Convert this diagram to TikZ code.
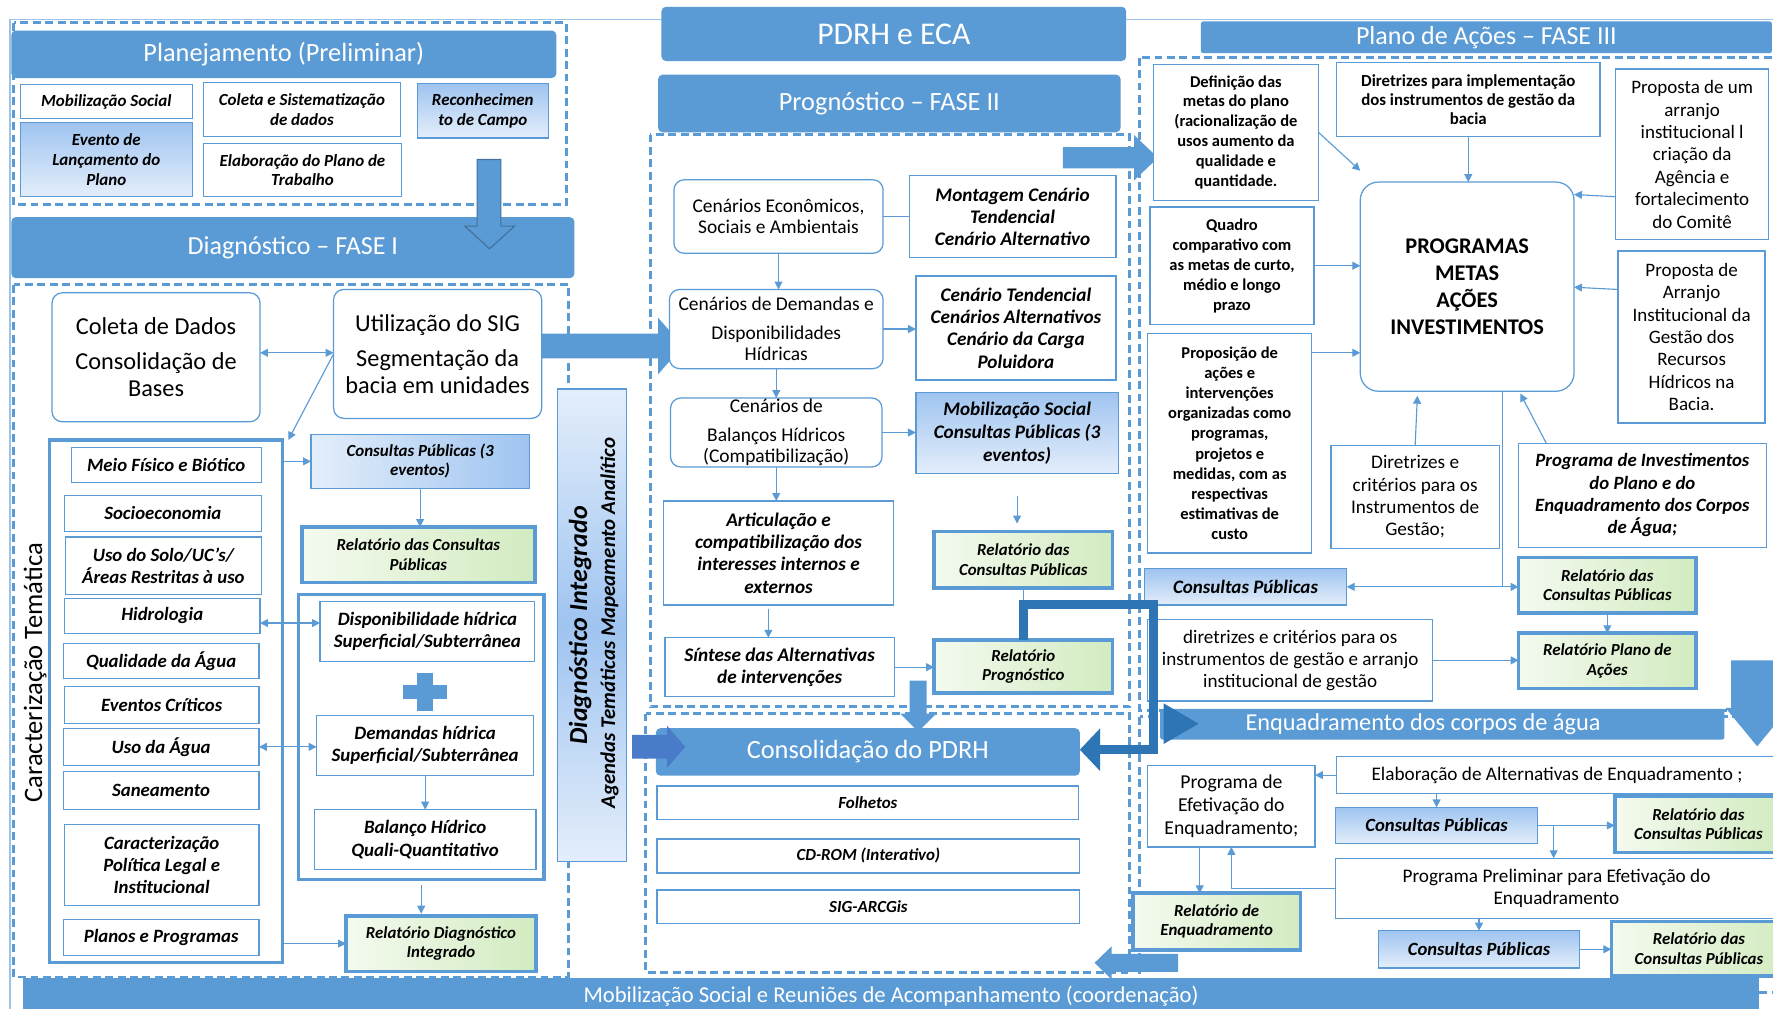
\documentclass[tikz,border=0pt]{standalone}
\usepackage{fontspec}
\setmainfont{Carlito}
\usetikzlibrary{arrows.meta}
\definecolor{bl}{HTML}{5B9BD5}
\definecolor{dk}{HTML}{2E75B6}
\definecolor{ol}{HTML}{41719C}
\definecolor{lbd}{HTML}{9FC4F0}
\definecolor{lbl}{HTML}{E4EEFB}
\definecolor{gl}{HTML}{F4FAEF}
\definecolor{gd}{HTML}{D2EBC0}
\definecolor{frm}{HTML}{9DC3E6}
\definecolor{ab}{HTML}{4A7BC8}
\newcommand\setfs[2]{\fontsize{#1}{#2}\selectfont}
\newcommand\mybox[7]{\node[#6,minimum width={(#4)-(#2)},minimum height={(#5)-(#3)}] (#1) at ({((#2)+(#4))/2},{((#3)+(#5))/2}) {#7};}
\newcommand\harr[7]{\fill[#1] (#2,{#4-(#5)}) -- ({#3-(#7)},{#4-(#5)}) -- ({#3-(#7)},{#4-(#6)}) -- (#3,#4) -- ({#3-(#7)},{#4+(#6)}) -- ({#3-(#7)},{#4+(#5)}) -- (#2,{#4+(#5)}) -- cycle;}
\newcommand\varr[7]{\fill[#1] ({#2-(#5)},#3) -- ({#2-(#5)},{#4-(#7)}) -- ({#2-(#6)},{#4-(#7)}) -- (#2,#4) -- ({#2+(#6)},{#4-(#7)}) -- ({#2+(#5)},{#4-(#7)}) -- ({#2+(#5)},#3) -- cycle;}
\tikzset{
 hdr/.style={fill=bl, rounded corners=4pt, text=white, inner sep=0pt, outer sep=0pt, align=center},
 wb/.style={draw=bl, line width=1.1pt, fill=white, align=center, inner sep=1pt, outer sep=0pt},
 rb/.style={wb, rounded corners=9pt},
 bgv/.style={draw=bl, line width=1.1pt, top color=lbd, bottom color=lbl, align=center, inner sep=1pt, outer sep=0pt},
 bgh/.style={draw=bl, line width=1.1pt, left color=lbl, right color=lbd, align=center, inner sep=1pt, outer sep=0pt},
 gb/.style={draw=bl, line width=3.2pt, left color=gl, right color=gd, align=center, inner sep=1pt, outer sep=0pt},
 tb/.style={draw=bl, line width=3pt, inner sep=0pt, outer sep=0pt},
 dashbox/.style={draw=bl, line width=2.6pt, dash pattern=on 7pt off 4pt},
 con/.style={draw=bl, line width=1pt, -{Triangle[length=7pt,width=7pt]}},
 dcon/.style={draw=bl, line width=1pt, {Triangle[length=7pt,width=7pt]}-{Triangle[length=7pt,width=7pt]}},
 lin/.style={draw=bl, line width=1pt},
 bi/.style 2 args={font=\setfs{#1}{#2}\bfseries\itshape},
 rg/.style 2 args={font=\setfs{#1}{#2}},
 bd/.style 2 args={font=\setfs{#1}{#2}\bfseries}
}
\begin{document}
\begin{tikzpicture}[x=1pt,y=-1pt]
\useasboundingbox (0,0) rectangle (1568,892);
\fill[white] (0,0) rectangle (1568,892);
% section frames
\draw[dashbox] (12,20) rectangle (501,181);
\draw[dashbox] (12,252) rectangle (503,864);
\draw[dashbox] (575,119) rectangle (999,625);
\draw[dashbox] (571,631) rectangle (999,860);
\draw[dashbox] (1008,51) rectangle (1585,628);
\draw[dashbox] (1008,634) rectangle (1585,878);
\draw[frm, line width=1.2pt] (9,892) -- (9,17) -- (1568,17);
% headers
\mybox{pdrh}{585}{6}{996}{54}{hdr, rg={28}{32}}{PDRH e ECA}
\mybox{hplan}{10}{27}{492}{69}{hdr, rg={23.3}{26}}{Planejamento (Preliminar)}
\mybox{hdiag}{10}{192}{508}{246}{hdr, rg={23}{26}}{Diagnóstico – FASE I}
\mybox{hprog}{582}{66}{991}{117}{hdr, rg={23.3}{26}}{Prognóstico – FASE II}
\mybox{hplano}{1062}{19}{1567}{47}{hdr, rounded corners=2pt, rg={23}{26}}{Plano de Ações – FASE III}
\mybox{cons}{580}{644}{955}{686}{hdr, rg={23.3}{26}}{Consolidação do PDRH}
\mybox{enq}{1026}{627}{1525}{654}{hdr, rounded corners=2pt}{}
\node[text=white, rg={21.5}{24}, inner sep=0pt] (enqtx) at ([xshift=-17pt]enq.center) {Enquadramento dos corpos de água};
\mybox{bar}{20}{865}{1556}{896}{hdr, rounded corners=0pt, rg={20}{22}}{Mobilização Social e Reuniões de Acompanhamento (coordenação)}
% Planejamento
\mybox{mob}{18}{75}{170}{105}{wb, bi={15}{17}}{Mobilização Social}
\mybox{evt}{18}{108}{170}{174}{bgv, bi={15}{17.5}}{Evento de\\Lançamento do\\Plano}
\mybox{csd}{180}{73}{354}{121}{wb, bi={15}{17}}{Coleta e Sistematização\\de dados}
\mybox{ept}{180}{127}{355}{174}{wb, bi={15}{17}}{Elaboração do Plano de\\Trabalho}
\mybox{rec}{369}{74}{485}{122}{bgv, bi={15}{17}}{Reconhecimen\\to de Campo}
\filldraw[fill=bl, draw=ol, line width=1pt] (422,141) -- (422,200) -- (411,200) -- (433,220) -- (455,200) -- (443,200) -- (443,141) -- cycle;
% Diagnostico
\mybox{cole}{46}{259}{230}{373}{rb, rg={21.5}{24}}{Coleta de Dados\\[7pt]Consolidação de\\Bases}
\mybox{util}{295}{256}{479}{370}{rb, rg={21.5}{24}}{Utilização do SIG\\[7pt]Segmentação da\\bacia em unidades}
\mybox{car}{44}{389}{250}{851}{tb}{}
\node[rotate=90, rg={23.5}{26}] (cartx) at (31,595) {Caracterização Temática};
\mybox{mfb}{63}{396}{231}{427}{wb, bi={16.6}{19.5}}{Meio Físico e Biótico}
\mybox{soc}{57}{438}{231}{470}{wb, bi={16.6}{19.5}}{Socioeconomia}
\mybox{uso}{58}{475}{231}{526}{wb, bi={16.6}{19.5}}{Uso do Solo/UC’s/\\Áreas Restritas à uso}
\mybox{hid}{57}{529}{230}{560}{wb, bi={16.6}{19.5}}{Hidrologia}
\mybox{qua}{56}{569}{229}{600}{wb, bi={16.6}{19.5}}{Qualidade da Água}
\mybox{evc}{57}{607}{229}{640}{wb, bi={16.6}{19.5}}{Eventos Críticos}
\mybox{usa}{56}{644}{229}{677}{wb, bi={16.6}{19.5}}{Uso da Água}
\mybox{san}{56}{682}{229}{716}{wb, bi={16.6}{19.5}}{Saneamento}
\mybox{cpl}{57}{729}{229}{801}{wb, bi={16.6}{19.5}}{Caracterização\\Política Legal e\\Institucional}
\mybox{ppr}{56}{813}{229}{845}{wb, bi={16.6}{19.5}}{Planos e Programas}
\mybox{cp1}{275}{384}{468}{432}{bgh, bi={15}{17}}{Consultas Públicas (3\\eventos)}
\mybox{rc1}{267}{466}{473}{515}{gb, bi={14.9}{17}}{Relatório das Consultas\\Públicas}
\mybox{inn}{264}{526}{481}{778}{tb}{}
\mybox{disp}{283}{532}{473}{585}{wb, bi={16.7}{19.5}}{Disponibilidade hídrica\\Superficial/Subterrânea}
\fill[bl] (356,605.5) rectangle (395,618.5);
\fill[bl] (369,595.5) rectangle (382.5,628.5);
\mybox{dem}{280}{633}{472}{686}{wb, bi={16.7}{19.5}}{Demandas hídrica\\Superficial/Subterrânea}
\mybox{bal}{278}{716}{474}{769}{wb, bi={16.7}{19.5}}{Balanço Hídrico\\Quali-Quantitativo}
\mybox{rdi}{306}{810}{474}{859}{gb, bi={14.9}{17}}{Relatório Diagnóstico\\Integrado}
\mybox{dint}{493}{344}{554}{762}{draw=bl, line width=1.1pt, top color=lbl, bottom color=lbl, middle color=lbd, inner sep=0pt, outer sep=0pt}{}
\node[rotate=90, bi={23}{26}] (dtx1) at (513,553) {Diagnóstico Integrado};
\node[rotate=90, bi={18.5}{20}] (dtx2) at (539,551) {Agendas Temáticas Mapeamento Analítico};
\draw[dcon] (cole.east |- 0,312) -- (util.west |- 0,312);
\draw[con] (util.west) -- ([xshift=5pt]car.north east);
\draw[con] (car.east |- cp1.west) -- (cp1.west);
\draw[con] (cp1.south) -- (cp1.south |- rc1.north);
\draw[dcon] (hid.east |- 0,551) -- (disp.west |- 0,551);
\draw[dcon] (usa.east) -- (usa.east -| dem.west);
\draw[con] (dem.south) -- (dem.south |- bal.north);
\draw[con, shorten <=5pt, shorten >=2pt] (inn.south) -- (inn.south |- rdi.north);
\draw[con] (car.east |- rdi.west) -- (rdi.west);
\harr{bl}{479}{604}{306}{11}{25}{22}
\harr{ab}{559}{606}{660.5}{10.5}{18.5}{16}
% Prognostico
\mybox{ce}{596}{159}{781}{224}{rb, rg={17.2}{19}}{Cenários Econômicos,\\Sociais e Ambientais}
\mybox{mont}{804}{155}{987}{228}{wb, bi={17}{19.5}}{Montagem Cenário\\Tendencial\\Cenário Alternativo}
\mybox{cd}{592}{256}{781}{326}{rb, rg={17.2}{19}}{Cenários de Demandas e\\[6pt]Disponibilidades\\Hídricas}
\mybox{ct}{810}{244}{987}{336}{wb, bi={17}{19.7}}{Cenário Tendencial\\Cenários Alternativos\\Cenário da Carga\\Poluidora}
\mybox{cb}{593}{352}{780}{413}{rb, rg={17.2}{19}}{Cenários de\\[6pt]Balanços Hídricos\\(Compatibilização)}
\mybox{mob2}{810}{347}{989}{419}{bgv, bi={17}{20}}{Mobilização Social\\Consultas Públicas (3\\eventos)}
\mybox{art}{587}{443}{790}{535}{wb, bi={17}{19.7}}{Articulação e\\compatibilização dos\\interesses internos e\\externos}
\mybox{rc2}{826}{470}{984}{520}{gb, bi={14.9}{17}}{Relatório das\\Consultas Públicas}
\mybox{syn}{588}{564}{791}{616}{wb, bi={17}{20}}{Síntese das Alternativas\\de intervenções}
\mybox{rp}{826}{566}{984}{613}{gb, bi={14.9}{17}}{Relatório\\Prognóstico}
\draw[lin] (ce.east) -- (ce.east -| mont.west);
\draw[con] (ce.south) -- (ce.south |- cd.north);
\draw[con] (cd.east) -- (cd.east -| ct.west);
\draw[con] (cd.south) -- (cd.south |- cb.north);
\draw[con] (cb.east) -- (cb.east -| mob2.west);
\draw[con] (cb.south) -- (cb.south |- art.north);
\draw[con] ([yshift=-20pt]mob2.south) -- ([yshift=-44pt]mob2.south);
\coordinate (a1) at ([xshift=-9pt,yshift=-4pt]art.south);
\draw[con] (a1) -- (a1 |- syn.north);
\draw[con] (syn.east) -- (syn.east -| rp.west);
\draw[lin] (rc2.south) -- (rc2.south |- 0,535);
\varr{bl}{812}{602}{647}{7.5}{16}{16}
\harr{bl}{940}{1024}{139.5}{9.5}{20}{21}
% Consolidacao
\mybox{fol}{581}{695}{954}{725}{wb, bi={15}{17}}{Folhetos}
\mybox{cdr}{581}{742}{955}{772}{wb, bi={15}{17}}{CD-ROM (Interativo)}
\mybox{sigb}{581}{787}{955}{817}{wb, bi={15}{17}}{SIG-ARCGis}
\harr{bl}{1042}{968}{851.5}{8}{14.5}{-15}
% Plano de Acoes
\mybox{def}{1020}{57}{1166}{177}{wb, bd={14.6}{17.6}}{Definição das\\metas do plano\\(racionalização de\\usos aumento da\\qualidade e\\quantidade.}
\mybox{dir}{1182}{55}{1415}{121}{wb, bd={14.9}{17}}{Diretrizes para implementação\\dos instrumentos de gestão da\\bacia}
\mybox{prop1}{1429}{61}{1564}{212}{wb, rg={16.8}{19.8}}{Proposta de um\\arranjo\\institucional l\\criação da\\Agência e\\fortalecimento\\do Comitê}
\mybox{prog}{1203}{161}{1392}{346}{rb, rounded corners=16pt, bd={19.8}{24}}{PROGRAMAS\\METAS\\AÇÕES\\INVESTIMENTOS}
\mybox{quad}{1017}{183}{1162}{287}{wb, bd={14.6}{17.7}}{Quadro\\comparativo com\\as metas de curto,\\médio e longo\\prazo}
\mybox{prop2}{1431}{222}{1561}{374}{wb, rg={16.8}{19.7}}{Proposta de\\Arranjo\\Institucional da\\Gestão dos\\Recursos\\Hídricos na\\Bacia.}
\mybox{propo}{1015}{295}{1160}{489}{wb, bd={14.6}{17.8}}{Proposição de\\ações e\\intervenções\\organizadas como\\programas,\\projetos e\\medidas, com as\\respectivas\\estimativas de\\custo}
\mybox{dcr}{1177}{394}{1326}{485}{wb, rg={17}{19.7}}{Diretrizes e\\critérios para os\\Instrumentos de\\Gestão;}
\mybox{pinv}{1343}{392}{1562}{484}{wb, bi={16.6}{19.7}}{Programa de Investimentos\\do Plano e do\\Enquadramento dos Corpos\\de Água;}
\mybox{cpp}{1012}{503}{1191}{535}{bgv, bi={16.8}{18}}{Consultas Públicas}
\mybox{rcp3}{1343}{493}{1500}{542}{gb, bi={14.9}{17}}{Relatório das\\Consultas Públicas}
\mybox{rpa}{1343}{560}{1500}{609}{gb, bi={14.9}{17}}{Relatório Plano de\\Ações}
\mybox{dgl}{1015}{548}{1267}{620}{wb, rg={16.9}{19.5}}{diretrizes e critérios para os\\instrumentos de gestão e arranjo\\institucional de gestão}
\draw[con] (def.east) -- ([yshift=10pt]prog.north west);
\draw[con] (dir.south) -- (dir.south |- prog.north);
\draw[con] (prop1.west |- 0,174) -- (prog.east |- 0,172);
\draw[con] (quad.east) -- (prog.west |- quad.east);
\draw[con] (prop2.west |- 0,256) -- (prog.east |- 0,254);
\draw[con] (propo.east |- 0,312) -- (prog.west |- 0,312);
\draw[con] (dcr.north) -- ([xshift=-44pt,yshift=-4pt]prog.south);
\draw[con] ([xshift=-85pt]pinv.north) -- ([xshift=47pt,yshift=-2pt]prog.south);
\coordinate (p1) at ([xshift=31pt]prog.south);
\draw[lin] (p1) -- (p1 |- cpp.east);
\draw[dcon] (cpp.east) -- (cpp.east -| rcp3.west);
\draw[con] (rcp3.south) -- (rpa.north);
\draw[con] (dgl.east) -- (dgl.east -| rpa.west);
\varr{bl}{1554}{584}{660}{23}{28}{34}
% Enquadramento
\mybox{pef}{1015}{677}{1163}{749}{wb, rg={17.4}{20}}{Programa de\\Efetivação do\\Enquadramento;}
\mybox{ela}{1182}{669}{1572}{702}{wb, rg={17}{19}}{Elaboração de Alternativas de Enquadramento ;}
\mybox{cq1}{1181}{714}{1360}{746}{bgv, bi={16.5}{18}}{Consultas Públicas}
\mybox{rq1}{1428}{704}{1576}{754}{gb, bi={14.9}{17}}{Relatório das\\Consultas Públicas}
\mybox{ppe}{1181}{759}{1572}{812}{wb, rg={17}{20}}{Programa Preliminar para Efetivação do\\Enquadramento}
\mybox{renq}{1002}{790}{1150}{840}{gb, bi={14.9}{17}}{Relatório de\\Enquadramento}
\mybox{cq2}{1219}{823}{1397}{856}{bgv, bi={16.5}{18}}{Consultas Públicas}
\mybox{rq2}{1425}{815}{1580}{863}{gb, bi={14.9}{17}}{Relatório das\\Consultas Públicas}
\draw[con] (ela.west) -- (ela.west -| pef.east);
\draw[con] (cq1.north |- ela.south) -- (cq1.north);
\draw[con] (cq1.east) -- (cq1.east -| rq1.west);
\coordinate (b1) at ([xshift=14pt]cq1.east);
\draw[con] (b1) -- (b1 |- ppe.north);
\draw[con] (ppe.west) -| (pef.south);
\coordinate (c2) at ([xshift=-28pt]pef.south);
\draw[con] (c2) -- (c2 |- renq.north);
\draw[con] (cq2.north |- ppe.south) -- (cq2.north);
\draw[con] (cq2.east) -- (cq2.east -| rq2.west);
% thick connector from Relatorio Prognostico to Consolidacao
\draw[dk, line width=8pt, line join=miter, -{Triangle[length=18pt,width=38pt,line width=0pt]}] (rp.north) -- (rp.north |- 0,535) -- (1020,535) -- (1020,663) -- (cons.east |- 0,663);
\fill[dk] (1029,622) -- (1060,640) -- (1029,658) -- cycle;
\end{tikzpicture}
\end{document}
